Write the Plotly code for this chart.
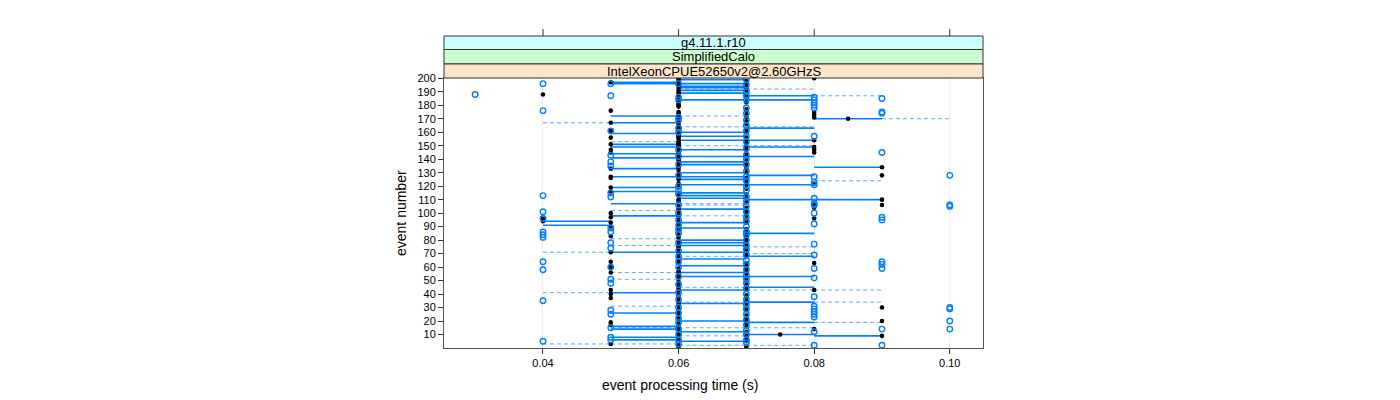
import plotly.graph_objects as go

# ---------------- data ----------------
y_ticks = list(range(10, 201, 10))
x_ticks = [0.04, 0.06, 0.08, 0.10]
x_tick_text = ["0.04", "0.06", "0.08", "0.10"]
strip_labels = ["g4.11.1.r10", "SimplifiedCalo", "IntelXeonCPUE52650v2@2.60GHzS"]

# black filled points: event numbers per processing time
black_004 = [188, 96, 94]
black_005 = [197, 176, 167, 161, 156, 151, 147, 145, 133, 127, 126, 119, 116, 100, 97, 93, 90, 83,
             71, 64, 60, 56, 43, 40, 37, 19, 17, 3]
black_006 = [200, 199, 197, 195, 194, 192, 190, 189, 186, 183, 181, 180, 179, 175, 174, 172,
             170, 167, 165, 164, 163, 162, 159, 158, 157, 156, 155, 153, 152, 151, 150, 149,
             148, 146, 145, 143, 141, 140, 139, 137, 135, 134, 132, 129, 127, 125, 122,
             119, 115, 113, 110, 109, 105, 103, 101, 99, 97, 94, 92, 90,
             89, 87, 84, 82, 79, 77, 75, 74, 73, 70, 67, 65, 63, 59, 57, 55,
             54, 52, 49, 48, 46, 44, 42, 39, 37, 34, 32, 29, 27, 25, 23,
             21, 18, 16, 15, 13, 11, 9, 7, 5, 2, 1]
black_007 = [198, 196, 193, 191, 188, 186, 182, 177, 176, 173, 171, 168, 166, 162, 160, 156,
             154, 152, 149, 147, 144, 142, 139, 137, 135, 133, 130, 126, 123, 121, 118,
             114, 111, 108, 104, 102, 100, 98, 95, 93, 88, 86, 83, 81, 79, 77, 74, 72, 70,
             68, 63, 61, 59, 57, 55, 52, 50, 47, 45, 43, 39, 38, 35, 33, 30, 28, 24, 22,
             20, 18, 16, 12, 9, 7, 5, 1]
black_0075 = [10]
black_008 = [200, 175, 173, 171, 154, 149, 147, 145, 122, 106, 104, 96, 63, 43, 14]
black_0085 = [170]
black_009 = [134, 128, 110, 106, 30, 20, 9]

# blue open points: event numbers per processing time
blue_003 = [188]
blue_004 = [196, 176, 113, 101, 96, 86, 84, 82, 64, 58, 35, 5]
blue_005 = [196, 187, 161, 143, 138, 135, 115, 112, 89, 86, 78, 74, 60, 51, 48, 28, 25, 15, 8, 6]
blue_006 = [196, 186, 184, 171, 169, 163, 160, 147, 142, 136, 128, 120, 117, 114, 106, 100, 95, 91,
            88, 85, 78, 72, 68, 64, 60, 53, 47, 41, 36, 30, 26, 22, 19, 14, 10, 6, 3]
blue_007 = [199, 195, 190, 187, 184, 178, 174, 169, 165, 161, 157, 153, 148, 143, 140, 136, 131, 127,
            124, 120, 117, 112, 109, 105, 101, 97, 94, 90, 86, 84, 80, 76, 73, 69, 65, 62, 58, 54,
            51, 48, 44, 40, 36, 32, 29, 25, 21, 17, 13, 10, 6, 4]
blue_008 = [186, 184, 182, 180, 178, 157, 127, 123, 121, 111, 107, 106, 100, 92, 77, 69, 59, 52, 38,
            31, 29, 27, 25, 23, 12, 2]
blue_009 = [185, 175, 174, 145, 97, 95, 64, 62, 59, 14, 2]
blue_010 = [128, 106, 105, 30, 29, 20, 14]

# solid segments: event numbers per time interval
solid_004_005 = [94, 91]
solid_005_006 = [197, 196, 172, 167, 159, 151, 149, 144, 141, 133, 127, 119, 116, 107, 98, 71, 41,
                 26, 16, 14, 8, 6]
solid_006_007 = [199, 196, 194, 193, 191, 189, 184, 160, 157, 154, 147, 142, 138, 136, 130, 127, 125,
                 121, 115, 113, 111, 103, 93, 89, 80, 78, 76, 71, 66, 61, 56, 53, 43, 33, 20, 12, 5]
solid_007_008 = [187, 184, 163, 154, 149, 142, 128, 121, 110, 85, 68, 53, 45, 34, 19, 10]
solid_008_009 = [170, 134, 110, 9]

# dashed segments: event numbers per time interval
dashed_004_005 = [167, 71, 41, 3]
dashed_005_006 = [153, 102, 81, 76, 56, 51, 31, 15, 3]
dashed_006_007 = [192, 172, 164, 150, 107, 106, 98, 68, 45, 34, 15, 9, 2]
dashed_007_008 = [192, 164, 150, 75, 70, 43, 15, 2]
dashed_008_009 = [187, 124, 43, 34, 19]
dashed_009_010 = [170]

# ---------------- build traces ----------------
black_pts = [(0.04, black_004), (0.05, black_005), (0.06, black_006), (0.07, black_007),
             (0.075, black_0075), (0.08, black_008), (0.085, black_0085), (0.09, black_009)]
blue_pts = [(0.03, blue_003), (0.04, blue_004), (0.05, blue_005), (0.06, blue_006),
            (0.07, blue_007), (0.08, blue_008), (0.09, blue_009), (0.10, blue_010)]
solid_segs = [((0.04, 0.05), solid_004_005), ((0.05, 0.06), solid_005_006),
              ((0.06, 0.07), solid_006_007), ((0.07, 0.08), solid_007_008),
              ((0.08, 0.09), solid_008_009)]
dashed_segs = [((0.04, 0.05), dashed_004_005), ((0.05, 0.06), dashed_005_006),
               ((0.06, 0.07), dashed_006_007), ((0.07, 0.08), dashed_007_008),
               ((0.08, 0.09), dashed_008_009), ((0.09, 0.10), dashed_009_010)]


def seg_xy(groups):
    xs, ys = [], []
    for (x0, x1), evs in groups:
        for e in evs:
            xs += [x0, x1, None]
            ys += [e, e, None]
    return xs, ys


def pt_xy(groups):
    xs, ys = [], []
    for x, evs in groups:
        xs += [x] * len(evs)
        ys += evs
    return xs, ys


BLUE = "#0080ff"
FONT = "Liberation Sans, Arial, sans-serif"
fig = go.Figure()

dx, dy = seg_xy(dashed_segs)
fig.add_trace(go.Scatter(x=dx, y=dy, mode="lines", hoverinfo="skip",
                         line=dict(color="#5aa9f5", width=1, dash="4px,3px")))
sx, sy = seg_xy(solid_segs)
fig.add_trace(go.Scatter(x=sx, y=sy, mode="lines", hoverinfo="skip",
                         line=dict(color=BLUE, width=1.6)))
kx, ky = pt_xy(black_pts)
fig.add_trace(go.Scatter(x=kx, y=ky, mode="markers",
                         marker=dict(symbol="circle", size=4.6, color="black")))
bx, by = pt_xy(blue_pts)
fig.add_trace(go.Scatter(x=bx, y=by, mode="markers",
                         marker=dict(symbol="circle-open", size=5.5, color=BLUE,
                                     line=dict(width=1.4, color=BLUE))))

# ---------------- layout ----------------
# target page pixel positions of the panel; the page body adds an 8 px offset
L, R, T, B = 444, 983, 78, 348
W, H = 1400, 400
OFF = 8
ph = B - T


def py2paper(py):
    return (B - py) / ph


strip_bounds = [(36, 49.5, "#ccffff"), (49.5, 64, "#ccffcc"), (64, 78, "#ffe5cc")]
shapes = []
annotations = []
for (top, bot, col), lab in zip(strip_bounds, strip_labels):
    shapes.append(dict(type="rect", xref="paper", yref="paper", x0=0, x1=1,
                       y0=py2paper(bot), y1=py2paper(top), fillcolor=col,
                       line=dict(color="#333333", width=1), layer="above"))
    annotations.append(dict(xref="paper", yref="paper", x=0.5, y=(py2paper(bot) + py2paper(top)) / 2,
                            text=lab, showarrow=False, yanchor="middle",
                            font=dict(family=FONT, size=13, color="black")))
# top ticks above strips
for xt in x_ticks:
    shapes.append(dict(type="line", xref="x", yref="paper", x0=xt, x1=xt,
                       y0=py2paper(36), y1=py2paper(29), line=dict(color="#333333", width=1)))

annotations.append(dict(xref="paper", yref="paper", x=(680 - L) / (R - L), y=py2paper(385),
                        text="event processing time (s)", showarrow=False, yanchor="middle",
                        font=dict(family=FONT, size=14, color="black")))
annotations.append(dict(xref="paper", yref="paper", x=(401 - L) / (R - L), y=0.5,
                        text="event number", showarrow=False, textangle=-90, xanchor="center",
                        font=dict(family=FONT, size=14, color="black")))

fig.update_layout(
    width=W, height=H, showlegend=False,
    paper_bgcolor="white", plot_bgcolor="white",
    margin=dict(l=L - OFF, r=W - R + OFF, t=T - OFF, b=H - B + OFF, pad=0),
    shapes=shapes, annotations=annotations,
    font=dict(family=FONT, size=11, color="black"),
    xaxis=dict(range=[0.0254, 0.1049], tickvals=x_ticks, ticktext=x_tick_text,
               showgrid=True, gridcolor="#ebebeb", gridwidth=1, zeroline=False,
               showline=True, mirror=True, linecolor="#555555", linewidth=1,
               ticks="outside", ticklen=5, tickcolor="#333333",
               tickfont=dict(size=11)),
    yaxis=dict(range=[0, 200.2], tickvals=y_ticks, showgrid=False, zeroline=False,
               showline=True, mirror=True, linecolor="#555555", linewidth=1,
               ticks="outside", ticklen=5, tickcolor="#333333",
               tickfont=dict(size=11)),
)

fig.write_html("out.html")
